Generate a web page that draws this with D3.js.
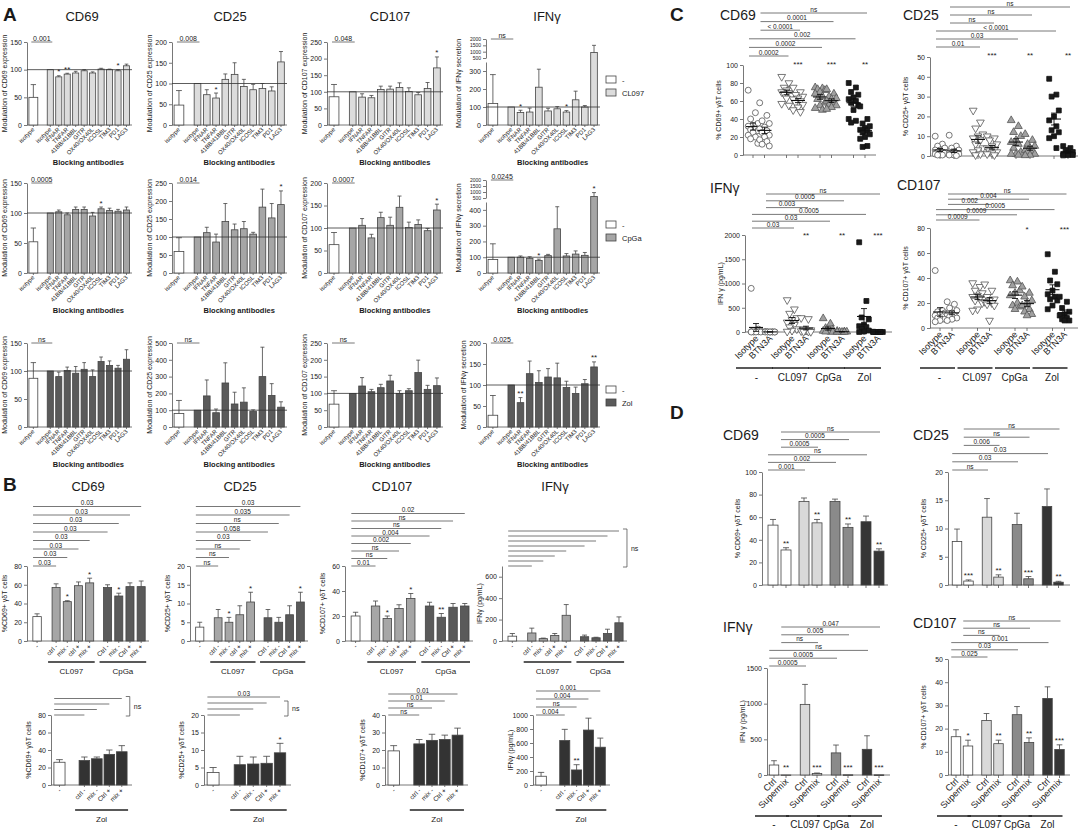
<!DOCTYPE html>
<html>
<head>
<meta charset="utf-8">
<script src="https://cdn.jsdelivr.net/npm/d3@7"></script>
<style>
  body { margin: 0; background: #fff; }
</style>
</head>
<body>
<script>
// ---------- Panel A: modulation by blocking antibodies (first value = unstimulated isotype) ----------
var aCats = ['isotype', 'isotype', 'IFNAR', 'TNFAR', '41BB/41BBL', 'GITR', 'OX40/OX40L', 'ICOSL', 'TIM3', 'PD1', 'LAG3'];
var aStim = ['CL097', 'CpGa', 'Zol'];
var aTitles = ['CD69', 'CD25', 'CD107', 'IFNγ'];
var aYLabels = ['Modulation of CD69 expression', 'Modulation of CD25 expression',
  'Modulation of CD107 expression', 'Modulation of IFNγ secretion'];

var aMeanCL097 = [
  [50, 100, 87, 92, 94, 98, 94, 101, 100, 98, 107],
  [48, 100, 73, 65, 110, 122, 93, 85, 88, 82, 152],
  [85, 100, 84, 82, 107, 108, 113, 101, 91, 110, 172],
  [120, 100, 70, 72, 210, 78, 90, 72, 140, 100, 940]
];
var aErrCL097 = [
  [23, 0, 2, 1.5, 3, 2, 2, 1.5, 1, 2, 3],
  [35, 0, 12, 12, 13, 28, 17, 13, 12, 10, 25],
  [37, 0, 10, 7, 10, 9, 14, 11, 7, 18, 33],
  [160, 0, 12, 22, 100, 15, 12, 8, 48, 8, 560]
];
var aMeanCpGa = [
  [52, 100, 102, 97, 106, 106, 95, 107, 104, 103, 105],
  [60, 100, 112, 86, 143, 120, 123, 108, 183, 153, 190],
  [63, 100, 106, 78, 123, 106, 146, 101, 108, 94, 140],
  [85, 100, 100, 93, 80, 110, 280, 108, 120, 112, 620]
];
var aErrCpGa = [
  [23, 0, 3, 3, 4, 4, 6, 3, 4, 3, 5],
  [38, 0, 15, 22, 50, 16, 20, 5, 50, 40, 38],
  [27, 0, 15, 8, 12, 18, 25, 12, 10, 5, 13],
  [100, 0, 8, 10, 8, 8, 140, 15, 20, 18, 330]
];
var aMeanZol = [
  [87, 100, 90, 101, 96, 103, 90, 117, 110, 105, 121],
  [80, 100, 185, 85, 262, 137, 148, 92, 300, 188, 118],
  [68, 100, 122, 105, 117, 137, 100, 108, 162, 112, 123],
  [28, 100, 58, 127, 106, 119, 117, 94, 80, 103, 143]
];
var aErrZol = [
  [28, 0, 8, 6, 12, 12, 12, 8, 8, 5, 17],
  [78, 0, 95, 22, 120, 70, 85, 10, 175, 70, 32],
  [40, 0, 25, 7, 10, 17, 8, 6, 37, 12, 23],
  [47, 0, 12, 30, 28, 20, 35, 15, 15, 10, 12]
];
var aStars = [
  [{2: '*', 3: '**', 9: '*'}, {3: '*'}, {10: '*'}, {2: '*', 7: '*'}],
  [{7: '*'}, {10: '*'}, {10: '*'}, {4: '*', 10: '*'}],
  [{}, {}, {}, {2: '**', 10: '**'}]
];
var aP = [['0.001', '0.008', '0.048', 'ns'], ['0.0005', '0.014', '0.0007', '0.0245'], ['ns', 'ns', 'ns', '0.025']];
var aYMax = [[150, 200, 250, 2000], [150, 250, 200, 2000], [150, 500, 250, 200]];
var aYStep = [[50, 50, 50, 100], [50, 50, 50, 100], [50, 100, 50, 50]];
var aLowMax = [350, 450];           // lower part of the broken IFNγ axis
var aHighTicks = [500, 1000, 1500, 2000];

// ---------- Panel B: supermix blocking ----------
var bCats1 = ['-', 'ctrl -', 'mix -', 'ctrl +', 'mix +', 'Ctrl -', 'mix -', 'Ctrl +', 'mix +'];
var bCats2 = ['-', 'ctrl -', 'mix -', 'Ctrl +', 'mix +'];
var bGroups1 = ['CL097', 'CpGa'];
var bGroups2 = ['Zol'];
var bYLabels = ['%CD69+ γδT cells', '%CD25+ γδT cells', '%CD107+ γδT cells', 'IFNγ (pg/mL)'];
var bMean1 = [
  [26, 57, 42, 59, 62, 57, 48, 58, 58],
  [3.7, 6.2, 5, 7, 10.4, 6.2, 5, 7, 10.4],
  [20, 28, 18, 26, 34, 28, 19, 27, 28],
  [45, 75, 22, 52, 240, 40, 30, 70, 170]
];
var bErr1 = [
  [3, 4, 1, 4, 5, 3, 3, 4, 6],
  [1.3, 2.2, 1.3, 2.4, 2.6, 2.2, 1.3, 2.4, 2.6],
  [3, 4, 2, 3, 4, 3, 3, 3, 2],
  [25, 45, 5, 18, 100, 15, 5, 40, 55]
];
var bStars1 = [
  ['', '', '*', '', '*', '', '*', '', ''],
  ['', '', '*', '', '*', '', '', '', '*'],
  ['', '', '*', '', '*', '', '**', '', ''],
  ['', '', '', '', '', '', '', '', '']
];
var bP1 = [  // from shortest (bar 1) to longest (bar 8)
  ['0.03', '0.03', '0.03', '0.03', '0.03', '0.03', '0.03', '0.03'],
  ['ns', 'ns', 'ns', '0.03', '0.058', 'ns', '0.035', '0.03'],
  ['0.01', 'ns', 'ns', '0.002', '0.004', 'ns', 'ns', '0.02'],
  ['', '', '', '', '', '', '', '']
];
var bMean2 = [
  [26, 28, 30, 35, 38],
  [3.6, 5.8, 6, 6.2, 9.2],
  [19.5, 23.5, 25.5, 26, 28.5],
  [125, 635, 215, 785, 540]
];
var bErr2 = [
  [3, 4, 2, 5, 7],
  [1.4, 2.4, 2, 2, 2.7],
  [3, 2.5, 3.5, 2.5, 4],
  [55, 160, 75, 170, 130]
];
var bStars2 = [['', '', '', '', ''], ['', '', '', '', '*'], ['', '', '', '', ''], ['', '', '**', '', '']];
var bP2 = [['', '', '', ''], ['', '', '', '0.03'], ['ns', 'ns', '0.01', '0.01'], ['0.004', 'ns', '0.004', '0.001']];
var bYMax1 = [80, 20, 60, 700];
var bTicks1 = [[0, 20, 40, 60, 80], [0, 5, 10, 15, 20], [0, 20, 40, 60], [0, 200, 400, 600]];
var bYMax2 = [80, 20, 40, 1000];
var bTicks2 = [[0, 20, 40, 60, 80], [0, 5, 10, 15, 20], [0, 10, 20, 30, 40], [0, 200, 400, 600, 800, 1000]];
var bNsSpan = [[null, null, null, [0, 7]], [[0, 3], [0, 2], null, null]];

// ---------- Panel C: BTN3A blocking, individual donors ----------
var cGroups = ['-', 'CL097', 'CpGa', 'Zol'];
var cConds = ['Isotype', 'BTN3A'];
var cTitles = ['CD69', 'CD25', 'IFNγ', 'CD107'];
var cYLabels = ['% CD69+ γδT cells', '% CD25+ γδT cells', 'IFN γ (pg/mL)', '% CD107+ γδT cells'];
var cCD69 = [
  [72, 47, 40, 35, 33, 32, 30, 28, 27, 25, 22, 20, 18, 13],
  [58, 44, 38, 35, 31, 29, 27, 25, 22, 20, 17, 15, 12, 10],
  [87, 80, 75, 73, 72, 70, 69, 68, 66, 63, 57, 55],
  [75, 70, 67, 65, 63, 62, 60, 58, 56, 53, 50, 48],
  [75, 74, 73, 72, 70, 68, 65, 62, 58, 55, 52, 50],
  [73, 68, 65, 63, 62, 60, 58, 56, 55, 53, 51],
  [80, 75, 70, 67, 64, 62, 60, 58, 55, 50, 40, 38, 36],
  [54, 40, 35, 32, 30, 28, 27, 25, 23, 20, 18, 10, 9]
];
var cCD25 = [
  [10, 6, 5, 4, 3, 3, 2, 2, 1.5, 1, 1, 0.5, 0.5],
  [10.5, 5, 4, 3, 2, 2, 1.5, 1, 1, 0.5, 0.5, 0.2],
  [23, 17, 14, 11, 10, 9, 8, 6, 4, 3, 2, 1, 0.5],
  [10, 9, 8, 6, 5, 4, 3, 2.5, 2, 1.5, 1, 0.5],
  [18, 15, 12, 10, 8, 7, 6, 4, 2, 1, 1, 0.5],
  [11, 8, 6, 5, 4, 3, 2.5, 2, 1, 0.5, 0.3],
  [39, 31, 30, 23, 20, 18, 15, 13, 12, 10, 9, 4],
  [5, 4, 3, 2, 1.5, 1, 1, 0.8, 0.5, 0.5, 0.3]
];
var cIFNg = [
  [900, 60, 30, 20, 10, 5, 5, 0, 0, 0, 0],
  [10, 5, 5, 0, 0, 0, 0, 0, 0, 0],
  [660, 470, 380, 290, 250, 200, 150, 100, 60, 30, 10],
  [290, 270, 60, 40, 30, 20, 10, 5, 5],
  [280, 170, 80, 50, 30, 20, 10, 5, 0],
  [20, 10, 5, 5, 0, 0, 0],
  [1850, 640, 300, 260, 150, 120, 100, 60, 30, 10, 0],
  [5, 2, 0, 0, 0, 0, 0]
];
var cCD107 = [
  [46, 14, 13, 12, 11, 10, 9, 8, 7, 6, 5],
  [21, 19, 16, 14, 12, 11, 10, 9, 8, 7, 6],
  [36, 33, 30, 28, 26, 25, 24, 22, 20, 15, 14],
  [35, 30, 25, 23, 22, 21, 20, 19, 18, 6],
  [38, 37, 34, 30, 28, 26, 20, 18, 17, 15],
  [33, 28, 25, 22, 20, 18, 15, 13, 11, 10],
  [59, 45, 38, 35, 30, 27, 25, 23, 22, 18, 15],
  [25, 21, 16, 13, 11, 10, 8, 7, 6, 6]
];
var cYMax = [100, 50, 2000, 80];
var cTicks = [[0, 20, 40, 60, 80, 100], [0, 10, 20, 30, 40, 50], [0, 500, 1000, 1500, 2000], [0, 20, 40, 60, 80]];
var cStars = [['***', '***', '**'], ['***', '**', '**'], ['**', '**', '***'], ['', '*', '***']];
var cPairs = [[1, 7], [1, 5], [1, 3], [0, 6], [0, 4], [0, 2]];   // top to bottom
var cP = [
  ['ns', '0.0001', '< 0.0001', '0.002', '0.0002', '0.0002'],
  ['ns', 'ns', 'ns', '< 0.0001', '0.03', '0.01'],
  ['ns', '0.0005', '0.003', '0.0005', '0.03', '0.03'],
  ['ns', '0.004', '0.002', '0.0005', '0.0009', '0.0009']
];

// ---------- Panel D: supermix, Ctrl vs Supermix ----------
var dConds = ['Ctrl', 'Supermix'];
var dGroups = ['-', 'CL097', 'CpGa', 'Zol'];
var dTitles = ['CD69', 'CD25', 'IFNγ', 'CD107'];
var dYLabels = ['% CD69+ γδT cells', '% CD25+ γδT cells', 'IFN γ (pg/mL)', '% CD107+ γδT cells'];
var dMean = [
  [53, 31, 74, 55, 74, 51, 56, 30],
  [7.7, 0.7, 12, 1.4, 10.7, 1.1, 13.9, 0.5],
  [140, 0, 990, 20, 310, 3, 360, 2],
  [16.5, 12.5, 23.5, 13.5, 26, 14, 33, 11]
];
var dErr = [
  [5, 2, 3, 3, 2, 3, 5, 2],
  [2.2, 0.2, 3.3, 0.4, 2, 0.4, 3.1, 0.15],
  [60, 0, 280, 8, 110, 2, 190, 1],
  [3, 2.5, 3, 1.5, 3.5, 2, 5, 2]
];
var dStars = [
  ['', '**', '', '**', '', '**', '', '**'],
  ['', '***', '', '**', '', '***', '', '**'],
  ['', '**', '', '***', '', '***', '', '***'],
  ['', '*', '', '**', '', '**', '', '***']
];
var dYMax = [100, 20, 1500, 50];
var dTicks = [[0, 20, 40, 60, 80, 100], [0, 5, 10, 15, 20], [0, 500, 1000, 1500], [0, 10, 20, 30, 40, 50]];
var dP = [
  ['ns', '0.0005', '0.0005', 'ns', '0.002', '0.001'],
  ['ns', 'ns', '0.006', '0.03', '0.03', 'ns'],
  ['0.047', '0.005', 'ns', 'ns', '0.0005', '0.0005'],
  ['ns', 'ns', 'ns', '0.001', '0.03', '0.025']
];

// ---------- layout ----------
var FONT = '"Liberation Sans", Arial, Helvetica, sans-serif';
var aGeo = {axisX: [27, 172, 327, 486], width: [105, 115, 116, 114], top: [42, 183, 343], zero: [125, 273, 427], breakY: [62, 202]};
var aFill = ['#dcdcdc', '#a6a6a6', '#5a5a5a'];
var aLegendY = [76, 221, 386];
var bGeo = [
  {axisX: [27, 190, 345, 502], width: [122, 118, 128, 125], top: 566, zero: 641,
   slots: [0, 1.7, 2.7, 3.7, 4.7, 6.3, 7.3, 8.3, 9.3], span: 10.9, off: 0.9, bw: 0.72,
   lineY: 662, grpY: 674, spacing: [8.5, 8.5, 7.5, 5]},
  {axisX: [51, 204, 385, 533], width: [81, 87, 83, 77], top: 715, zero: 785,
   slots: [0, 2, 3, 4, 5], span: 6.5, off: 0.68, bw: 0.85,
   lineY: 810, grpY: 822, spacing: [5.5, 6, 7, 8]}
];
var bFill = [['#fff', '#a6a6a6', '#a6a6a6', '#a6a6a6', '#a6a6a6', '#5a5a5a', '#5a5a5a', '#5a5a5a', '#5a5a5a'],
             ['#fff', '#333', '#333', '#333', '#333']];
var cGeo = [
  {ax: 743, top: 65, zero: 155, x0: 753, gs: 33.5, ps: 11.5, right: 876, brBottom: 56, brSp: 8.6, title: [720, 20], starY: 67},
  {ax: 930, top: 57, zero: 156, x0: 940, gs: 38, ps: 14, right: 1078, brBottom: 47, brSp: 8, title: [903, 20], starY: 58},
  {ax: 745, top: 235, zero: 332, x0: 756, gs: 36, ps: 14, right: 892, brBottom: 228, brSp: 6.8, title: [710, 193], starY: 238},
  {ax: 930, top: 228, zero: 328, x0: 940, gs: 37.5, ps: 12, right: 1078, brBottom: 220, brSp: 5.2, title: [897, 190], starY: 232}
];
var dGeo = [
  {ax: 762, top: 472, zero: 585, x0: 773, gs: 31, ps: 13, bw: 10, right: 888, brBottom: 470, brSp: 7.6, title: [723, 440]},
  {ax: 948, top: 472, zero: 585, x0: 957, gs: 30, ps: 11.5, bw: 9.5, right: 1070, brBottom: 470, brSp: 8.2, title: [913, 440]},
  {ax: 767, top: 668, zero: 775, x0: 774, gs: 31, ps: 12, bw: 9.5, right: 890, brBottom: 666, brSp: 7.8, title: [723, 632]},
  {ax: 948, top: 659, zero: 775, x0: 956, gs: 30.5, ps: 12, bw: 9.5, right: 1070, brBottom: 657, brSp: 7.2, title: [913, 628]}
];
var dFill = ['#ffffff', '#d9d9d9', '#8a8a8a', '#353535'];

var svg = d3.select('body').append('svg')
  .attr('width', 1084).attr('height', 830)
  .style('font-family', FONT);

// ---------- helpers ----------
function text(x, y, s, size, anchor, opt) {
  opt = opt || {};
  var t = svg.append('text').attr('x', x).attr('y', y).attr('font-size', size)
    .attr('text-anchor', anchor || 'start').attr('fill', '#1a1a1a').text(s);
  if (opt.bold) t.attr('font-weight', 'bold');
  if (opt.rot) t.attr('transform', 'rotate(' + opt.rot + ',' + x + ',' + y + ')');
  return t;
}

function line(x1, y1, x2, y2, w, col) {
  return svg.append('line').attr('x1', x1).attr('y1', y1).attr('x2', x2).attr('y2', y2)
    .attr('stroke', col || '#444').attr('stroke-width', w || 0.8);
}

function yAxis(x, scale, ticks, fs) {
  var g = svg.append('g').attr('transform', 'translate(' + x + ',0)')
    .call(d3.axisLeft(scale).tickValues(ticks).tickFormat(d3.format('d'))
      .tickSize(3).tickPadding(2).tickSizeOuter(0));
  g.attr('font-family', FONT).attr('font-size', fs);
  g.selectAll('text').attr('fill', '#222');
  g.selectAll('.domain,.tick line').attr('stroke', '#555').attr('stroke-width', 0.8);
  return g;
}

function bar(cx, bw, y0, ytop, yerr, fill) {
  svg.append('rect').attr('x', cx - bw / 2).attr('y', ytop).attr('width', bw)
    .attr('height', Math.max(0.6, y0 - ytop)).attr('fill', fill)
    .attr('stroke', '#444').attr('stroke-width', 0.8);
  if (yerr < ytop - 0.5) {
    line(cx, ytop, cx, yerr);
    line(cx - bw * 0.3, yerr, cx + bw * 0.3, yerr);
  }
}

function bracket(x1, x2, y, label, fs) {
  line(x1, y, x2, y, 0.8, '#555');
  if (label) text((x1 + x2) / 2, y - 1.5, label, fs || 6.5, 'middle');
}

function nsBracket(x, y1, y2) {
  svg.append('path').attr('d', 'M' + x + ',' + y1 + 'h4V' + y2 + 'h-4')
    .attr('fill', 'none').attr('stroke', '#555').attr('stroke-width', 0.8);
  text(x + 8, (y1 + y2) / 2 + 2.5, 'ns', 7);
}

// ---------- Panel A ----------
var aMean = [aMeanCL097, aMeanCpGa, aMeanZol];
var aErr = [aErrCL097, aErrCpGa, aErrZol];

function drawA(r, c) {
  var ax = aGeo.axisX[c], w = aGeo.width[c], top = aGeo.top[r], y0 = aGeo.zero[r];
  var mean = aMean[r][c], err = aErr[r][c];
  var step = w / 12.4;
  var xs = function(i) { return ax + step * ((i === 0 ? 0 : i + 1) + 0.75); };
  var ys, brY = top, labX = ax - 20;

  if (c === 3 && r < 2) {
    var lowMax = aLowMax[r], yb = aGeo.breakY[r];
    var low = d3.scaleLinear().domain([0, lowMax]).range([y0, yb]);
    var high = d3.scaleLinear().domain([500, 2000]).range([yb - 4, top - 3]);
    ys = function(v) {
      if (v <= lowMax) return low(v);
      if (v < 500) return yb - 4 * (v - lowMax) / (500 - lowMax);
      return high(v);
    };
    yAxis(ax, low, d3.range(0, lowMax, 100), 7);
    yAxis(ax, high, aHighTicks, 5);
    brY = top - 3;
    labX = ax - 25;
  } else {
    ys = d3.scaleLinear().domain([0, aYMax[r][c]]).range([y0, top]);
    yAxis(ax, ys, d3.range(0, aYMax[r][c] + 1, aYStep[r][c]), 7);
  }

  line(ax, y0, ax + w, y0, 0.8, '#555');
  mean.forEach(function(m, i) {
    var cx = xs(i);
    var bw = i === 0 ? step * 1.05 : step * 0.72;
    bar(cx, bw, y0, ys(m), ys(m + err[i]), i === 0 ? '#fff' : aFill[r]);
    line(cx, y0, cx, y0 + 2, 0.8, '#555');
    text(cx + 1.5, y0 + 5, aCats[i], 6, 'end', {rot: -45});
    var st = aStars[r][c][i];
    if (st) text(cx, ys(m + err[i]) - 1.5, st, 8, 'middle');
  });
  line(ax, ys(100), ax + w, ys(100), 0.8, '#333');
  bracket(xs(0) - 2, xs(1) + 2, brY, aP[r][c], 7);
  text(labX, (top + y0) / 2, aYLabels[c], 7, 'middle', {rot: -90});
  text((xs(1) + xs(10)) / 2, y0 + 40, 'Blocking antibodies', 7.5, 'middle', {bold: true});
}

text(3, 21, 'A', 19, 'start', {bold: true});
[82, 230, 390, 547].forEach(function(x, c) { text(x, 21, aTitles[c], 13, 'middle'); });
for (var r = 0; r < 3; r++) {
  for (var c = 0; c < 4; c++) drawA(r, c);
  var ly = aLegendY[r];
  svg.append('rect').attr('x', 606).attr('y', ly).attr('width', 10).attr('height', 7)
    .attr('fill', '#fff').attr('stroke', '#444').attr('stroke-width', 0.8);
  svg.append('rect').attr('x', 606).attr('y', ly + 13).attr('width', 10).attr('height', 7)
    .attr('fill', aFill[r]).attr('stroke', '#444').attr('stroke-width', 0.8);
  text(622, ly + 6.5, '-', 7.5);
  text(622, ly + 19.5, aStim[r], 7.5);
}

// ---------- Panel B ----------
function drawB(r, c) {
  var G = bGeo[r], ax = G.axisX[c], w = G.width[c], top = G.top, y0 = G.zero;
  var mean = r === 0 ? bMean1[c] : bMean2[c];
  var err = r === 0 ? bErr1[c] : bErr2[c];
  var stars = r === 0 ? bStars1[c] : bStars2[c];
  var pv = r === 0 ? bP1[c] : bP2[c];
  var cats = r === 0 ? bCats1 : bCats2;
  var groups = r === 0 ? bGroups1 : bGroups2;
  var step = w / G.span, bw = step * G.bw;
  var xs = function(i) { return ax + step * (G.slots[i] + G.off); };
  var y = d3.scaleLinear().domain([0, r === 0 ? bYMax1[c] : bYMax2[c]]).range([y0, top]);

  yAxis(ax, y, r === 0 ? bTicks1[c] : bTicks2[c], 7);
  line(ax, y0, ax + w, y0, 0.8, '#555');
  mean.forEach(function(m, i) {
    var cx = xs(i);
    bar(cx, i === 0 ? bw * 1.05 : bw, y0, y(m), y(m + err[i]), bFill[r][i]);
    line(cx, y0, cx, y0 + 2, 0.8, '#555');
    text(cx + 2, y0 + 6, cats[i], 6.5, 'end', {rot: -45});
    if (stars[i]) text(cx, y(m + err[i]) - 1.5, stars[i], 8, 'middle');
  });

  // comparisons against the unstimulated bar
  var ends = [];
  pv.forEach(function(p, k) {
    var ly = top - k * G.spacing[c];
    var x1 = xs(0) - bw / 2, x2 = xs(k + 1);
    ends.push(x2);
    bracket(x1, x2, ly, p, 6.5);
  });
  var ns = bNsSpan[r][c];
  if (ns) nsBracket(d3.max(ends) + 4, top - ns[1] * G.spacing[c] - 2, top - ns[0] * G.spacing[c] + 1);

  // stimulus underlines
  groups.forEach(function(gname, g) {
    var i1 = 1 + g * 4, i2 = i1 + 3;
    var x1 = xs(i1) - bw / 2 - 4, x2 = xs(i2) + bw / 2 + 1;
    line(x1, G.lineY, x2, G.lineY, 1.4, '#222');
    text((x1 + x2) / 2, G.grpY, gname, 8, 'middle');
  });
  text(ax - 20, (top + y0) / 2, bYLabels[c], 7, 'middle', {rot: -90});
}

text(3, 491, 'B', 19, 'start', {bold: true});
[88, 240, 392, 555].forEach(function(x, c) { text(x, 491, aTitles[c], 13, 'middle'); });
for (var c2 = 0; c2 < 4; c2++) { drawB(0, c2); drawB(1, c2); }

// ---------- Panel C ----------
var cData = [cCD69, cCD25, cIFNg, cCD107];
var cShape = [d3.symbolCircle, d3.symbolTriangle, d3.symbolTriangle, d3.symbolSquare];
var cSize = [28, 26, 26, 24];
var cMarkFill = ['#fff', '#fff', '#a0a0a0', '#1a1a1a'];

function drawC(k) {
  var G = cGeo[k];
  var y = d3.scaleLinear().domain([0, cYMax[k]]).range([G.zero, G.top]);
  var xc = function(j) { return G.x0 + Math.floor(j / 2) * G.gs + (j % 2) * G.ps; };
  yAxis(G.ax, y, cTicks[k], 7);
  line(G.ax, G.zero, G.right, G.zero, 0.8, '#555');

  cData[k].forEach(function(vals, j) {
    var g = Math.floor(j / 2), cx = xc(j);
    line(cx, G.zero, cx, G.zero + 3, 0.8, '#555');
    vals.forEach(function(v, i) {
      var jx = ((i * 3) % 5 - 2) * 2.4;
      svg.append('path')
        .attr('d', d3.symbol().type(cShape[g]).size(cSize[g]))
        .attr('transform', 'translate(' + (cx + jx) + ',' + y(v) + ')' + (g === 1 ? ' rotate(180)' : ''))
        .attr('fill', cMarkFill[g]).attr('stroke', g === 3 ? '#111' : '#555').attr('stroke-width', 0.8);
    });
    var m = d3.mean(vals), sem = d3.deviation(vals) / Math.sqrt(vals.length);
    line(cx - 7, y(m), cx + 7, y(m), 1.1, '#111');
    line(cx, y(m - sem), cx, y(m + sem), 0.9, '#111');
    line(cx - 3, y(m - sem), cx + 3, y(m - sem), 0.9, '#111');
    line(cx - 3, y(m + sem), cx + 3, y(m + sem), 0.9, '#111');
    if (k >= 2) text(cx + 3, G.zero + 7, cConds[j % 2], 9, 'end', {rot: -45});
  });

  cStars[k].forEach(function(s, g) {
    if (s) text(xc(2 * (g + 1) + 1), G.starY, s, 8, 'middle');
  });
  cPairs.forEach(function(pr, i) {
    var ly = G.brBottom - (cPairs.length - 1 - i) * G.brSp;
    bracket(xc(pr[0]) - 4, xc(pr[1]) + 2, ly, cP[k][i], 6.5);
  });
  if (k >= 2) {
    cGroups.forEach(function(gname, g) {
      var x1 = xc(2 * g) - 20, x2 = xc(2 * g + 1) + 3;
      line(x1, 368, x2, 368, 1.3, '#222');
      text((x1 + x2) / 2 + 2, 381, gname, 10, 'middle');
    });
  }
  text(G.ax - 22, (G.top + G.zero) / 2, cYLabels[k], 7, 'middle', {rot: -90});
  text(G.title[0], G.title[1], cTitles[k], 14);
}

text(670, 21, 'C', 19, 'start', {bold: true});
for (var k = 0; k < 4; k++) drawC(k);

// ---------- Panel D ----------
function drawD(k) {
  var G = dGeo[k];
  var y = d3.scaleLinear().domain([0, dYMax[k]]).range([G.zero, G.top]);
  var xc = function(j) { return G.x0 + Math.floor(j / 2) * G.gs + (j % 2) * G.ps; };
  yAxis(G.ax, y, dTicks[k], 7);
  line(G.ax, G.zero, G.right, G.zero, 0.8, '#555');

  dMean[k].forEach(function(m, j) {
    var cx = xc(j), e = dErr[k][j];
    bar(cx, G.bw, G.zero, y(m), y(m + e), dFill[Math.floor(j / 2)]);
    line(cx, G.zero, cx, G.zero + 3, 0.8, '#555');
    if (dStars[k][j]) text(cx, Math.min(y(m + e), G.zero - 3) - 2, dStars[k][j], 8, 'middle');
    if (k >= 2) text(cx + 3, G.zero + 7, dConds[j % 2], 9, 'end', {rot: -45});
  });
  cPairs.forEach(function(pr, i) {
    var ly = G.brBottom - (cPairs.length - 1 - i) * G.brSp;
    bracket(xc(pr[0]) - G.bw / 2, xc(pr[1]) + 1, ly, dP[k][i], 6.5);
  });
  if (k >= 2) {
    dGroups.forEach(function(gname, g) {
      var x1 = xc(2 * g) - 19, x2 = xc(2 * g + 1) + 3;
      line(x1, 816, x2, 816, 1.3, '#222');
      text((x1 + x2) / 2 + 2, 828, gname, 10, 'middle');
    });
  }
  text(G.ax - 22, (G.top + G.zero) / 2, dYLabels[k], 7, 'middle', {rot: -90});
  text(G.title[0], G.title[1], dTitles[k], 14);
}

text(670, 419, 'D', 19, 'start', {bold: true});
for (var k2 = 0; k2 < 4; k2++) drawD(k2);
</script>
</body>
</html>
